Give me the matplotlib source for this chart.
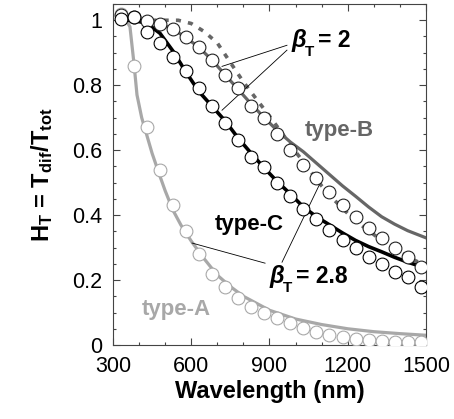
import numpy as np
import matplotlib
matplotlib.use("Agg")
import matplotlib.pyplot as plt
from matplotlib.ticker import MultipleLocator, FuncFormatter

plt.rcParams['font.family'] = ['Liberation Sans', 'DejaVu Sans']
plt.rcParams['mathtext.fontset'] = 'custom'
plt.rcParams['mathtext.rm'] = 'Liberation Sans'
plt.rcParams['mathtext.bf'] = 'Liberation Sans:bold'
plt.rcParams['mathtext.it'] = 'Liberation Sans:italic'

# measured points (wavelength in nm)
wl_pts = [330, 380, 430, 480, 530, 580, 630, 680, 730, 780, 830, 880,
          930, 980, 1030, 1080, 1130, 1180, 1230, 1280, 1330, 1380, 1430, 1480]
A_pts = [1.02, 0.86, 0.67, 0.54, 0.43, 0.35, 0.28, 0.22, 0.18, 0.145, 0.117, 0.098,
         0.083, 0.068, 0.052, 0.04, 0.031, 0.025, 0.018, 0.015, 0.012, 0.01, 0.008, 0.008]
B_pts = [1.015, 1.01, 0.997, 0.988, 0.972, 0.948, 0.917, 0.877, 0.83, 0.79, 0.735, 0.70,
         0.65, 0.60, 0.555, 0.515, 0.47, 0.43, 0.394, 0.36, 0.33, 0.30, 0.27, 0.24]
C_pts = [1.005, 1.01, 0.963, 0.93, 0.886, 0.843, 0.79, 0.735, 0.683, 0.63, 0.58, 0.548,
         0.50, 0.46, 0.42, 0.388, 0.354, 0.323, 0.298, 0.27, 0.25, 0.225, 0.21, 0.18]

# fitted curves
wl_A = [330, 350, 365, 380, 392, 410, 430, 450, 480, 500, 530, 560, 600, 650, 700,
        750, 800, 900, 1000, 1100, 1200, 1300, 1400, 1500]
A_fit = [1.0, 1.0, 0.98, 0.87, 0.77, 0.70, 0.645, 0.59, 0.52, 0.475, 0.415, 0.37, 0.32,
         0.265, 0.215, 0.18, 0.15, 0.107, 0.08, 0.063, 0.05, 0.041, 0.035, 0.03]

wl_fit = [330, 380, 430, 480, 530, 580, 630, 680, 730, 780, 830, 880, 930, 980, 1030,
          1080, 1130, 1180, 1230, 1280, 1330, 1380, 1430, 1500]
B_fit = [1.0, 1.0, 0.998, 0.99, 0.972, 0.947, 0.916, 0.877, 0.832, 0.787, 0.742, 0.70,
         0.66, 0.625, 0.595, 0.56, 0.525, 0.49, 0.458, 0.425, 0.395, 0.372, 0.352, 0.33]
C_fit = [1.0, 1.0, 0.99, 0.96, 0.905, 0.84, 0.78, 0.735, 0.69, 0.637, 0.59, 0.545,
         0.503, 0.465, 0.425, 0.395, 0.37, 0.345, 0.322, 0.303, 0.287, 0.27, 0.255, 0.237]

wl_B28 = [400, 450, 500, 550, 600, 650, 700, 750, 800, 850, 900, 950, 1000, 1050,
          1100, 1150, 1200, 1250, 1300, 1350, 1400, 1450, 1500]
B28_fit = [1.0, 1.0, 1.0, 1.0, 0.99, 0.965, 0.93, 0.87, 0.81, 0.757, 0.705, 0.65,
           0.595, 0.543, 0.49, 0.445, 0.405, 0.37, 0.34, 0.31, 0.286, 0.263, 0.245]

gA = '#a8a8a8'
gB = '#666666'

fig = plt.figure(figsize=(4.54, 4.19), dpi=100)
ax = fig.add_axes([0.2489, 0.1766, 0.6894, 0.8138])

ax.plot(wl_A, A_fit, color=gA, lw=2.3, zorder=2)
ax.plot(wl_fit, B_fit, color=gB, lw=2.3, zorder=2)
ax.plot(wl_B28, B28_fit, color=gB, lw=2.6, ls=(0, (1.4, 2.0)), zorder=2)
ax.plot(wl_fit, C_fit, color='black', lw=2.6, zorder=2)

mk = dict(ls='none', marker='o', ms=9.2, mfc='white', mew=0.8, zorder=4)
ax.plot(wl_pts, A_pts, mec=gA, **mk)
ax.plot(wl_pts, B_pts, mec='#222222', **mk)
ax.plot(wl_pts, C_pts, mec='black', **mk)

# annotation lines
ax.plot([967, 718], [0.923, 0.858], color='black', lw=0.6, zorder=3)
ax.plot([967, 718], [0.908, 0.723], color='black', lw=0.6, zorder=3)
ax.plot([883, 603], [0.252, 0.314], color='black', lw=0.6, zorder=3)
ax.plot([948, 1094], [0.255, 0.498], color='black', lw=0.6, zorder=3)


def beta_label(x, y, value):
    ax.text(x, y, '\u03b2', fontsize=17, fontstyle='italic', fontweight='bold',
            va='baseline', ha='left')
    ax.annotate('T', (x, y), xytext=(9.6, -6), textcoords='offset points',
                fontsize=11, fontweight='bold', va='baseline', ha='left')
    ax.annotate('= ' + value, (x, y), xytext=(19, 0), textcoords='offset points',
                fontsize=16.5, fontweight='bold', va='baseline', ha='left')


beta_label(984, 0.917, '2')
beta_label(900, 0.19, '2.8')

ax.text(541, 0.108, 'type-A', color=gA, fontsize=16, fontweight='bold',
        ha='center', va='center')
ax.text(1167, 0.66, 'type-B', color=gB, fontsize=16, fontweight='bold',
        ha='center', va='center')
ax.text(821, 0.372, 'type-C', color='black', fontsize=16, fontweight='bold',
        ha='center', va='center')

ax.set_xlim(300, 1500)
ax.set_ylim(0, 1.05)
ax.xaxis.set_major_locator(MultipleLocator(300))
ax.xaxis.set_minor_locator(MultipleLocator(100))
ax.yaxis.set_major_locator(MultipleLocator(0.2))
ax.yaxis.set_minor_locator(MultipleLocator(0.05))
ax.yaxis.set_major_formatter(FuncFormatter(lambda v, p: '%g' % round(v, 2)))
ax.tick_params(which='both', direction='in', top=True, right=True,
               labelsize=15.5, color='#444444')
ax.tick_params(which='major', length=5, width=0.8, pad=8)
ax.tick_params(which='minor', length=2.5, width=0.8)
for s in ax.spines.values():
    s.set_color('#444444')
    s.set_linewidth(0.8)

ax.set_xlabel('Wavelength (nm)', fontsize=17, fontweight='bold', labelpad=2)
ax.set_ylabel(r'$\mathbf{H_T}$ = $\mathbf{T_{dif}/T_{tot}}$', fontsize=17,
              fontweight='bold', labelpad=12)

fig.savefig('out.png', dpi=100)
